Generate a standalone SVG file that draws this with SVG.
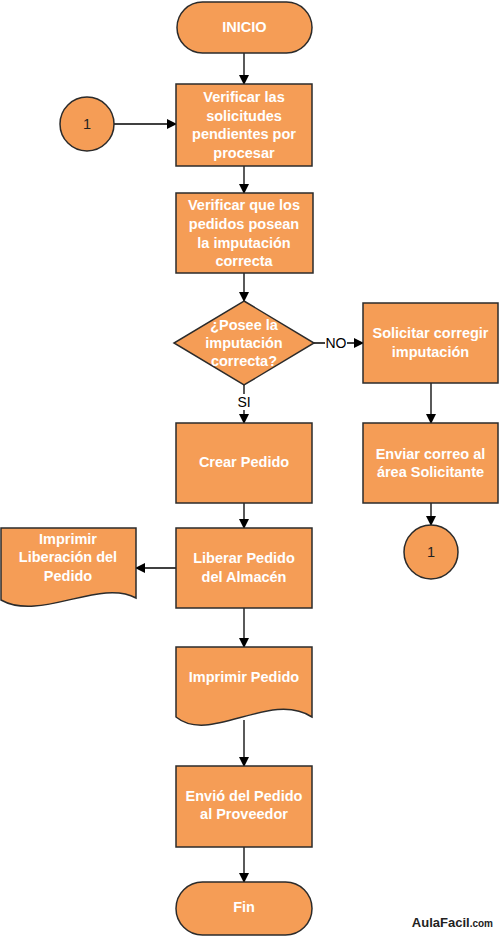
<svg xmlns="http://www.w3.org/2000/svg" width="499" height="937" viewBox="0 0 499 937">
<defs>
<marker id="arr" markerWidth="10" markerHeight="10" refX="9" refY="5" orient="auto" markerUnits="userSpaceOnUse">
<path d="M0,0 L10,5 L0,10 Z" fill="#000"/>
</marker>
<style>
.n{fill:#F59D56;stroke:#2b2b2b;stroke-width:1.5}
.t{font-family:"Liberation Sans",Arial,sans-serif;font-weight:bold;font-size:14.5px;fill:#fff;text-anchor:middle;dominant-baseline:central}
.c{stroke:#000;stroke-width:1.3;fill:none;marker-end:url(#arr)}
.l{font-family:"Liberation Sans",Arial,sans-serif;font-size:14px;fill:#000;text-anchor:middle;dominant-baseline:central}
</style>
</defs>
<rect width="499" height="937" fill="#fff"/>
<g id="connectors">
<line class="c" x1="244" y1="53" x2="244" y2="84"/>
<line class="c" x1="114" y1="124" x2="176" y2="124"/>
<line class="c" x1="244" y1="166" x2="244" y2="193"/>
<line class="c" x1="244" y1="273" x2="244" y2="301"/>
<line class="c" x1="314" y1="343" x2="363" y2="343"/>
<rect x="325" y="335" width="22" height="16" fill="#fff"/>
<text class="l" x="336" y="343">NO</text>
<line class="c" x1="244" y1="385" x2="244" y2="423"/>
<rect x="234" y="394" width="20" height="16" fill="#fff"/>
<text class="l" x="244" y="402">SI</text>
<line class="c" x1="431" y1="383" x2="431" y2="423"/>
<line class="c" x1="431" y1="503" x2="431" y2="525"/>
<line class="c" x1="244" y1="503" x2="244" y2="528"/>
<line class="c" x1="176" y1="568" x2="136" y2="568"/>
<line class="c" x1="244" y1="608" x2="244" y2="647"/>
<line class="c" x1="244" y1="720" x2="244" y2="766"/>
<line class="c" x1="244" y1="847" x2="244" y2="882"/>
</g>
<g id="inicio">
<rect class="n" x="177" y="2" width="135" height="51" rx="25.5"/>
<text class="t" x="244.5" y="27">INICIO</text>
</g>
<g id="conector1a">
<circle class="n" cx="87" cy="124" r="27"/>
<text class="t" x="87" y="124" style="fill:#222;font-weight:normal">1</text>
</g>
<g id="verificar1">
<rect class="n" x="176" y="84" width="136" height="82"/>
<text class="t" x="244" y="97">Verificar las</text>
<text class="t" x="244" y="115.5">solicitudes</text>
<text class="t" x="244" y="134">pendientes por</text>
<text class="t" x="244" y="152.5">procesar</text>
</g>
<g id="verificar2">
<rect class="n" x="176" y="193" width="137" height="80"/>
<text class="t" x="244" y="205">Verificar que los</text>
<text class="t" x="244" y="224">pedidos posean</text>
<text class="t" x="244" y="243">la imputación</text>
<text class="t" x="244" y="261">correcta</text>
</g>
<g id="decision">
<path class="n" d="M244,301 L314,343 L244,385 L174,343 Z"/>
<text class="t" x="244" y="325">¿Posee la</text>
<text class="t" x="244" y="343">imputación</text>
<text class="t" x="244" y="361">correcta?</text>
</g>
<g id="solicitar">
<rect class="n" x="363" y="303" width="135" height="80"/>
<text class="t" x="430.5" y="333">Solicitar corregir</text>
<text class="t" x="430.5" y="352">imputación</text>
</g>
<g id="enviar">
<rect class="n" x="363" y="423" width="135" height="80"/>
<text class="t" x="430.5" y="454">Enviar correo al</text>
<text class="t" x="430.5" y="472">área Solicitante</text>
</g>
<g id="conector1b">
<circle class="n" cx="431" cy="552" r="27"/>
<text class="t" x="431" y="552" style="fill:#222;font-weight:normal">1</text>
</g>
<g id="crear">
<rect class="n" x="176" y="423" width="136" height="80"/>
<text class="t" x="244" y="462">Crear Pedido</text>
</g>
<g id="liberar">
<rect class="n" x="176" y="528" width="136" height="80"/>
<text class="t" x="244" y="558">Liberar Pedido</text>
<text class="t" x="244" y="577">del Almacén</text>
</g>
<g id="imprimirLib">
<path class="n" d="M1,528 H136 V598 C100,578 40,622 1,600 Z"/>
<text class="t" x="68" y="539">Imprimir</text>
<text class="t" x="68" y="557">Liberación del</text>
<text class="t" x="68" y="576">Pedido</text>
</g>
<g id="imprimir">
<path class="n" d="M176,647 H312 V717 C270,690 210,745 176,717 Z"/>
<text class="t" x="244" y="677">Imprimir Pedido</text>
</g>
<g id="envio">
<rect class="n" x="176" y="766" width="136" height="81"/>
<text class="t" x="244" y="796">Envió del Pedido</text>
<text class="t" x="244" y="814">al Proveedor</text>
</g>
<g id="fin">
<rect class="n" x="176" y="882" width="136" height="53" rx="26.5"/>
<text class="t" x="244" y="907">Fin</text>
</g>
<text x="493" y="927" style="font-family:'Liberation Sans',Arial,sans-serif;font-weight:bold;fill:#222;text-anchor:end"><tspan font-size="13">AulaFacil</tspan><tspan font-size="10">.com</tspan></text>
</svg>
